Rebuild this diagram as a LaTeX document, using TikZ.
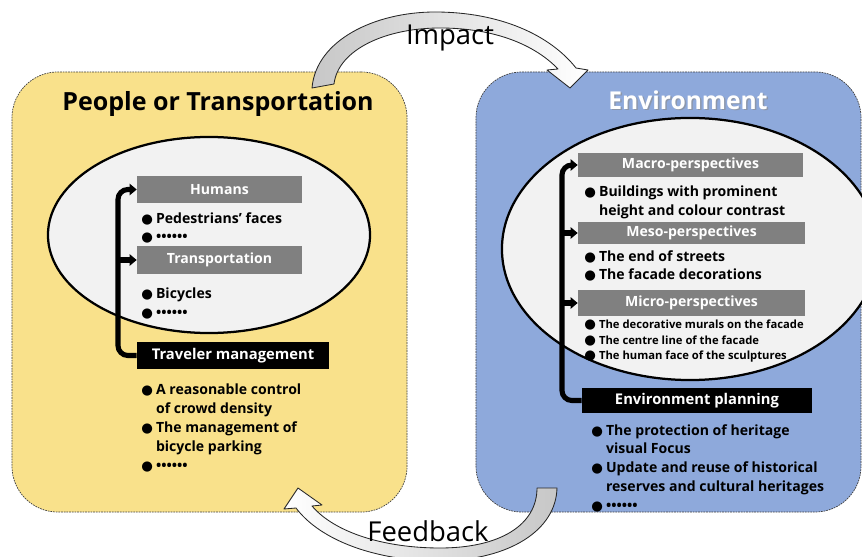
\documentclass[tikz,border=0pt]{standalone}
\usepackage{fontspec}
\setmainfont{Open Sans}
\newfontfamily\dotfont{DejaVu Sans}
\usetikzlibrary{arrows.meta,shapes.geometric}

\definecolor{peopleFill}{RGB}{249,225,139}
\definecolor{envFill}{RGB}{142,169,219}
\definecolor{headGray}{RGB}{128,128,128}
\definecolor{ovalFill}{RGB}{242,242,242}

\def \spineWidth {3.6pt}
\newcommand{\itm}{\makebox[10.5pt][l]{\dotfont\fontsize{9.5}{9}\selectfont ●}}
\newcommand{\gap}{\hspace*{10.5pt}}
\newcommand{\more}{\textbullet\textbullet\textbullet\textbullet\textbullet\textbullet}

\tikzset{
  panel/.style={draw=black!75, line width=0.5pt, dash pattern=on 1.2pt off 0.7pt, rounded corners=1.15cm},
  oval/.style={ellipse, draw=black, line width=1.6pt, fill=ovalFill},
  headbox/.style={fill=headGray, text=white, font=\bfseries\fontsize{10}{12}\selectfont, inner sep=0pt},
  planbox/.style={fill=black, text=white, font=\bfseries\fontsize{10.5}{12}\selectfont, inner sep=0pt},
  itemlist/.style={anchor=north west, inner sep=0pt, align=left, font=\bfseries\fontsize{10}{13.4}\selectfont},
  spine/.style={line width=\spineWidth, rounded corners=7pt, -{Triangle[length=5pt,width=8pt]}},
  bigarrow/.style={draw=black!85, line width=0.6pt, line join=round},
}

\begin{document}
\begin{tikzpicture}[x=0.025cm, y=-0.025cm]
  \useasboundingbox (0,0) rectangle (862,557);

  % the two panels
  \node[panel, fill=peopleFill, minimum width=9.875cm, minimum height=11cm] (people) at (209.5,292) {};
  \node[panel, fill=envFill, minimum width=9.625cm, minimum height=11cm] (env) at (668.5,292) {};

  \node[font=\bfseries\fontsize{17.8}{20}\selectfont] (peopleTitle) at (218,104) {People or Transportation};
  \node[font=\bfseries\fontsize{17.5}{20}\selectfont, text=black!45, opacity=0.6] at (689.5,101.5) {Environment};
  \node[font=\bfseries\fontsize{17.5}{20}\selectfont, text=white] (envTitle) at (688,100) {Environment};

  % ovals
  \node[oval, minimum width=8.05cm, minimum height=4.9cm] (peopleOval) at (209,235) {};
  \node[oval, minimum width=9.4cm, minimum height=6.55cm] (envOval) at (690,249) {};

  % impact and feedback arrows
  \draw[bigarrow, left color=black!22, right color=white]
    (312,88) .. controls (316,40) and (375,12) .. (435,12)
    .. controls (500,12) and (550,35) .. (576,68) -- (588,70) -- (570,88) -- (547,70) -- (558,69)
    .. controls (535,45) and (495,28) .. (440,28)
    .. controls (385,28) and (338,50) .. (334,84) -- cycle;
  \draw[bigarrow, left color=white, right color=black!22]
    (557,488) .. controls (556,530) and (510,560) .. (440,561)
    .. controls (375,561) and (320,540) .. (296,508) -- (284,509) -- (298,488) -- (322,505) -- (312,506)
    .. controls (335,533) and (385,548) .. (440,548)
    .. controls (500,548) and (537,525) .. (537,488) -- cycle;
  \node[font=\fontsize{19.5}{22}\selectfont] (impact) at (450,38) {Impact};
  \node[font=\fontsize{19.5}{22}\selectfont] (feedback) at (428,531) {Feedback};

  % people side
  \node[headbox, minimum width=4.125cm, minimum height=0.675cm] (humans) at (219.5,189.5) {Humans};
  \node[headbox, minimum width=4.125cm, minimum height=0.7cm] (trans) at (219.5,260) {Transportation};
  \node[planbox, minimum width=4.8cm, minimum height=0.675cm] (travel) at (233,355.5) {Traveler management};

  \node[itemlist] (humanItems) at (141,212) {\itm Pedestrians' faces\\ \itm\more};
  \node[itemlist] (transItems) at (141,288) {\itm Bicycles\\ \itm\more};
  \node[itemlist] (travelItems) at (141,384) {\itm A reasonable control\\ \gap of crowd density\\
    \itm The management of\\ \gap bicycle parking\\ \itm\more};

  \coordinate (peopleSpine) at (118,189.5);
  \draw[spine] (travel.west) -| (peopleSpine) -- (humans.west);
  \draw[spine] (peopleSpine |- trans.west) -- (trans.west);

  % environment side
  \node[headbox, minimum width=5.625cm, minimum height=0.6cm] (macro) at (690.5,165) {Macro-perspectives};
  \node[headbox, minimum width=5.675cm, minimum height=0.55cm] (meso) at (691.5,233) {Meso-perspectives};
  \node[headbox, minimum width=5.675cm, minimum height=0.65cm] (micro) at (691.5,303) {Micro-perspectives};
  \node[planbox, minimum width=5.75cm, minimum height=0.625cm] (plan) at (697,400.5) {Environment planning};

  \node[itemlist] (macroItems) at (584,186) {\itm Buildings with prominent\\ \gap height and colour contrast};
  \node[itemlist] (mesoItems) at (584,250) {\itm The end of streets\\ \itm The facade decorations};
  \node[itemlist, font=\bfseries\fontsize{8}{11}\selectfont] (microItems) at (584,320)
    {\itm The decorative murals on the facade\\ \itm The centre line of the facade\\ \itm The human face of the sculptures};
  \node[itemlist] (planItems) at (591,424) {\itm The protection of heritage\\ \gap visual Focus\\
    \itm Update and reuse of historical\\ \gap reserves and cultural heritages\\ \itm\more};

  \coordinate (envSpine) at (562,165);
  \draw[spine] (plan.west) -| (envSpine) -- (macro.west);
  \draw[spine] (envSpine |- meso.west) -- (meso.west);
  \draw[spine] (envSpine |- micro.west) -- (micro.west);
\end{tikzpicture}
\end{document}
